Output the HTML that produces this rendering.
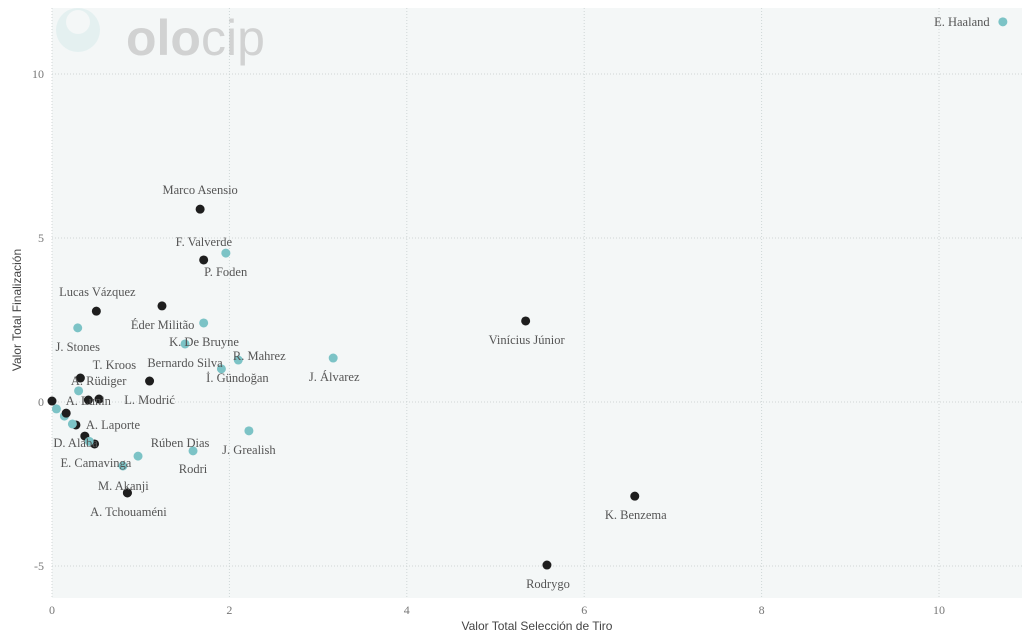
<!DOCTYPE html>
<html><head><meta charset="utf-8"><style>
body{margin:0;background:#fff;width:1024px;height:634px;overflow:hidden}
svg{display:block}
.lbl{font-family:"Liberation Serif",serif;font-size:12.5px;fill:#555}
.tick{font-family:"Liberation Serif",serif;font-size:12px;fill:#777}
.title{font-family:"Liberation Sans",sans-serif;font-size:12px;fill:#444}
</style></head><body>
<svg id="chart" width="1024" height="634" viewBox="0 0 1024 634" xmlns="http://www.w3.org/2000/svg">
<rect x="52" y="8" width="970" height="590" fill="#f4f7f7"/>
<g id="grid"></g>
<g opacity="0.55">
<circle cx="78" cy="30" r="22" fill="#d7ecec"/>
<circle cx="78" cy="22" r="12" fill="#f4f7f7"/>
<text x="126" y="55" font-family="Liberation Sans,sans-serif" font-size="50" fill="#b5b5b5"><tspan font-weight="bold">olo</tspan>cip</text>
</g>
<g id="ticks"></g>
<g id="marks"></g>
<text class="title" x="537" y="630" text-anchor="middle">Valor Total Selección de Tiro</text>
<text class="title" transform="translate(21,310) rotate(-90)" text-anchor="middle">Valor Total Finalización</text>
</svg>
<script>
const players=["E. Haaland","Marco Asensio","F. Valverde","P. Foden","Lucas Vázquez","Éder Militão","J. Stones","K. De Bruyne","R. Mahrez","İ. Gündoğan","J. Álvarez","Vinícius Júnior","T. Kroos","L. Modrić","A. Rüdiger","A. Lunin","A. Laporte","D. Alaba","Rúben Dias","Rodri","E. Camavinga","J. Grealish","M. Akanji","A. Tchouaméni","K. Benzema","Rodrygo","Bernardo Silva","","","","","","","",""];
const xVals=[10.72,1.67,1.96,1.71,0.50,1.71,0.29,1.50,2.10,1.91,3.17,5.34,0.32,1.10,0.30,0.41,0.27,0.48,0.97,1.59,0.80,2.22,0.85,0.85,6.57,5.58,1.24,0.53,0.0,0.05,0.14,0.16,0.23,0.37,0.42];
const yVals=[11.59,5.88,4.54,4.33,2.77,2.41,2.26,1.77,1.28,1.01,1.34,2.47,0.73,0.64,0.34,0.06,-0.70,-1.28,-1.65,-1.49,-1.95,-0.88,-2.77,-2.77,-2.87,-4.97,2.93,0.09,0.03,-0.21,-0.43,-0.34,-0.67,-1.04,-1.20];
const teams=["c","r","c","r","r","c","c","c","c","c","c","r","r","r","c","r","r","r","c","c","c","c","r","r","r","r","r","r","r","c","c","r","c","r","c"];
// label pixel offsets from the point (style only)
const lblDx=[-41,0,-22,22,1,-41,0,19,21,16,1,1,34,0,20,0,37,-19,42,0,-27,0,-4,1,1,1,23,0,0,0,0,0,0,0,0];
const lblDy=[0,-19,-11,12,-19,2,19,-2,-4,9,19,19,-13,19,-10,1,0,-1,-13,18,-3,19,-7,19,19,19,57,0,0,0,0,0,0,0,0];
const xTicks=[0,2,4,6,8,10];
const yTicks=[-5,0,5,10];
const X=v=>52+v*88.7, Y=v=>402-v*32.8;
const NS="http://www.w3.org/2000/svg";
const grid=document.getElementById('grid'),ticks=document.getElementById('ticks'),marks=document.getElementById('marks');
function mk(tag,attrs,parent){const e=document.createElementNS(NS,tag);for(const k in attrs)e.setAttribute(k,attrs[k]);parent.appendChild(e);return e;}
xTicks.forEach(t=>{
 const l=mk('line',{x1:X(t),x2:X(t),y1:8,y2:598,stroke:'#cfd6d6','stroke-dasharray':'1,2'},grid);
 
 
 const tx=mk('text',{x:X(t),y:614,'text-anchor':'middle',class:'tick'},ticks);tx.textContent=t;
 
 
});
yTicks.forEach(t=>{
 const l=mk('line',{x1:52,x2:1022,y1:Y(t),y2:Y(t),stroke:'#cfd6d6','stroke-dasharray':'1,2'},grid);
 
 
 const tx=mk('text',{x:44,y:Y(t)+4,'text-anchor':'end',class:'tick'},ticks);tx.textContent=t;
 
 
});
xVals.forEach((v,i)=>{
 const c=mk('circle',{cx:X(v),cy:Y(yVals[i]),r:4.5,fill:teams[i]==='c'?'#7cc3c6':'#1e1e1e'},marks);
 
 
});
xVals.forEach((v,i)=>{
 if(!players[i])return;
 const t=mk('text',{x:X(v)+lblDx[i],y:Y(yVals[i])+lblDy[i]+4,'text-anchor':'middle',class:'lbl'},marks);
 t.textContent=players[i];
 
 
});
</script>
</body></html>
